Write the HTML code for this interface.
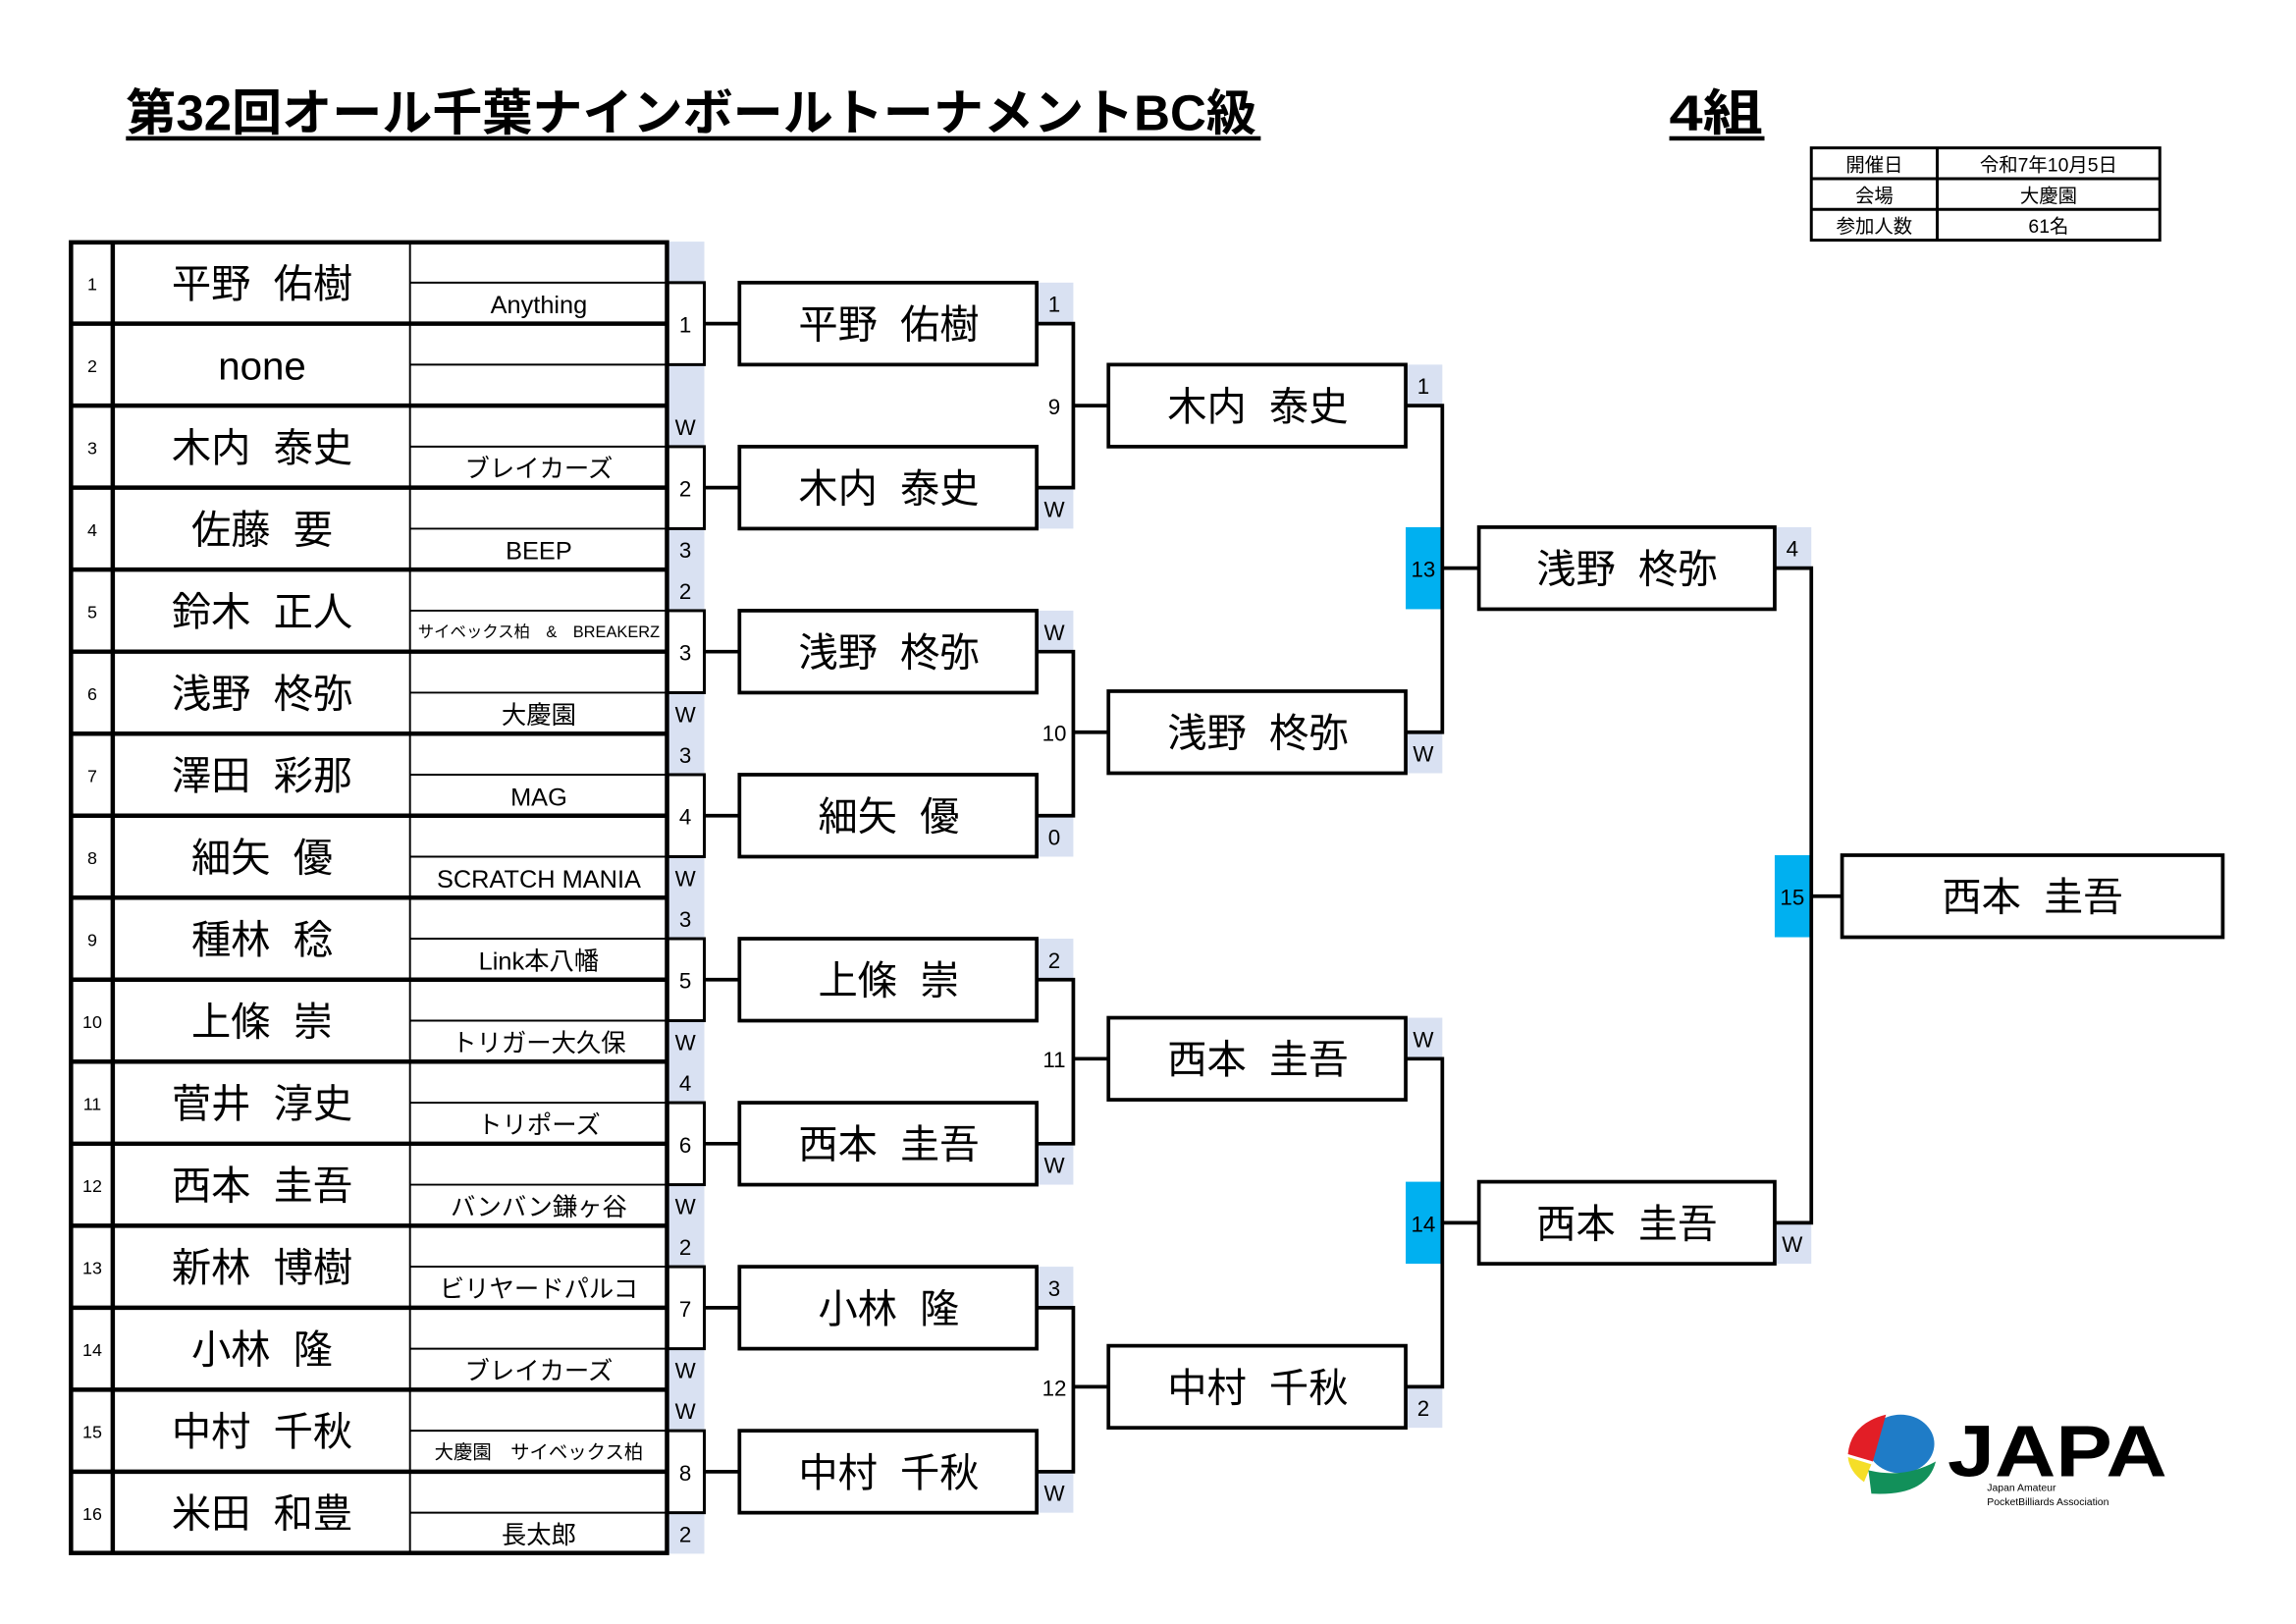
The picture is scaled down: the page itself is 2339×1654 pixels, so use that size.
<!DOCTYPE html>
<html><head><meta charset="utf-8"><style>
html,body{margin:0;padding:0;background:#fff;}
svg{display:block;}
text{font-family:"Liberation Sans","Noto Sans CJK JP",sans-serif;fill:#000;}
.nm{font-size:27px;text-anchor:middle;word-spacing:8px;}
.cl{font-size:17px;text-anchor:middle;}
.sm{font-size:12px;text-anchor:middle;}
.sc{font-size:15px;text-anchor:middle;}
</style></head><body>
<svg width="2339" height="1654" viewBox="0 0 1568 1109" preserveAspectRatio="none" xmlns="http://www.w3.org/2000/svg">
<rect width="1568" height="1109" fill="#fff"/>
<text x="86" y="89" font-size="34" font-weight="bold" textLength="772" lengthAdjust="spacingAndGlyphs">第32回オール千葉ナインボールトーナメントBC級</text>
<rect x="86" y="93" width="775" height="3" fill="#000"/>
<text x="1140" y="89" font-size="34" font-weight="bold" textLength="64" lengthAdjust="spacingAndGlyphs">4組</text>
<rect x="1140" y="93" width="65" height="3" fill="#000"/>
<g stroke="#000" stroke-width="2" fill="none">
<rect x="1237" y="101" width="238" height="63"/>
<line x1="1323" y1="101" x2="1323" y2="164"/>
<line x1="1237" y1="122" x2="1475" y2="122"/>
<line x1="1237" y1="143" x2="1475" y2="143"/>
</g>
<g font-size="13" text-anchor="middle">
<text x="1280" y="117">開催日</text><text x="1399" y="117">令和7年10月5日</text>
<text x="1280" y="138">会場</text><text x="1399" y="138">大慶園</text>
<text x="1280" y="159">参加人数</text><text x="1399" y="159">61名</text>
</g>
<rect x="456" y="165" width="25" height="896" fill="#d9e1f2"/>
<g fill="#fff" stroke="#000" stroke-width="2">
<rect x="456" y="193" width="25" height="56"/><rect x="456" y="305" width="25" height="56"/>
<rect x="456" y="417" width="25" height="56"/><rect x="456" y="529" width="25" height="56"/>
<rect x="456" y="641" width="25" height="56"/><rect x="456" y="753" width="25" height="56"/>
<rect x="456" y="865" width="25" height="56"/><rect x="456" y="977" width="25" height="56"/>
</g>
<g class="sc">
<text x="468" y="227" class="sc">1</text><text x="468" y="339" class="sc">2</text>
<text x="468" y="451" class="sc">3</text><text x="468" y="563" class="sc">4</text>
<text x="468" y="675" class="sc">5</text><text x="468" y="787" class="sc">6</text>
<text x="468" y="899" class="sc">7</text><text x="468" y="1011" class="sc">8</text>
<text x="468" y="297" class="sc">W</text><text x="468" y="381" class="sc">3</text>
<text x="468" y="409" class="sc">2</text><text x="468" y="493" class="sc">W</text>
<text x="468" y="521" class="sc">3</text><text x="468" y="605" class="sc">W</text>
<text x="468" y="633" class="sc">3</text><text x="468" y="717" class="sc">W</text>
<text x="468" y="745" class="sc">4</text><text x="468" y="829" class="sc">W</text>
<text x="468" y="857" class="sc">2</text><text x="468" y="941" class="sc">W</text>
<text x="468" y="969" class="sc">W</text><text x="468" y="1053" class="sc">2</text>
</g>
<g stroke="#000" fill="none">
<g stroke-width="1.3">
<line x1="280" y1="193" x2="456" y2="193"/><line x1="280" y1="249" x2="456" y2="249"/>
<line x1="280" y1="305" x2="456" y2="305"/><line x1="280" y1="361" x2="456" y2="361"/>
<line x1="280" y1="417" x2="456" y2="417"/><line x1="280" y1="473" x2="456" y2="473"/>
<line x1="280" y1="529" x2="456" y2="529"/><line x1="280" y1="585" x2="456" y2="585"/>
<line x1="280" y1="641" x2="456" y2="641"/><line x1="280" y1="697" x2="456" y2="697"/>
<line x1="280" y1="753" x2="456" y2="753"/><line x1="280" y1="809" x2="456" y2="809"/>
<line x1="280" y1="865" x2="456" y2="865"/><line x1="280" y1="921" x2="456" y2="921"/>
<line x1="280" y1="977" x2="456" y2="977"/><line x1="280" y1="1033" x2="456" y2="1033"/>
<line x1="280" y1="165" x2="280" y2="1061"/>
</g>
<g stroke-width="3">
<rect x="48.5" y="165.5" width="407" height="895"/>
<line x1="77" y1="165" x2="77" y2="1061"/>
<line x1="48" y1="221" x2="456" y2="221"/><line x1="48" y1="277" x2="456" y2="277"/>
<line x1="48" y1="333" x2="456" y2="333"/><line x1="48" y1="389" x2="456" y2="389"/>
<line x1="48" y1="445" x2="456" y2="445"/><line x1="48" y1="501" x2="456" y2="501"/>
<line x1="48" y1="557" x2="456" y2="557"/><line x1="48" y1="613" x2="456" y2="613"/>
<line x1="48" y1="669" x2="456" y2="669"/><line x1="48" y1="725" x2="456" y2="725"/>
<line x1="48" y1="781" x2="456" y2="781"/><line x1="48" y1="837" x2="456" y2="837"/>
<line x1="48" y1="893" x2="456" y2="893"/><line x1="48" y1="949" x2="456" y2="949"/>
<line x1="48" y1="1005" x2="456" y2="1005"/>
</g>
</g>
<g class="sm">
<text x="63" y="198" class="sm">1</text><text x="63" y="254" class="sm">2</text>
<text x="63" y="310" class="sm">3</text><text x="63" y="366" class="sm">4</text>
<text x="63" y="422" class="sm">5</text><text x="63" y="478" class="sm">6</text>
<text x="63" y="534" class="sm">7</text><text x="63" y="590" class="sm">8</text>
<text x="63" y="646" class="sm">9</text><text x="63" y="702" class="sm">10</text>
<text x="63" y="758" class="sm">11</text><text x="63" y="814" class="sm">12</text>
<text x="63" y="870" class="sm">13</text><text x="63" y="926" class="sm">14</text>
<text x="63" y="982" class="sm">15</text><text x="63" y="1038" class="sm">16</text>
</g>
<text x="179" y="203" class="nm">平野 佑樹</text>
<text x="179" y="259" class="nm">none</text>
<text x="179" y="315" class="nm">木内 泰史</text>
<text x="179" y="371" class="nm">佐藤 要</text>
<text x="179" y="427" class="nm">鈴木 正人</text>
<text x="179" y="483" class="nm">浅野 柊弥</text>
<text x="179" y="539" class="nm">澤田 彩那</text>
<text x="179" y="595" class="nm">細矢 優</text>
<text x="179" y="651" class="nm">種林 稔</text>
<text x="179" y="707" class="nm">上條 崇</text>
<text x="179" y="763" class="nm">菅井 淳史</text>
<text x="179" y="819" class="nm">西本 圭吾</text>
<text x="179" y="875" class="nm">新林 博樹</text>
<text x="179" y="931" class="nm">小林 隆</text>
<text x="179" y="987" class="nm">中村 千秋</text>
<text x="179" y="1043" class="nm">米田 和豊</text>
<text x="368" y="214" class="cl">Anything</text>
<text x="368" y="326" class="cl">ブレイカーズ</text>
<text x="368" y="382" class="cl">BEEP</text>
<text x="368" y="435" font-size="11" text-anchor="middle">サイベックス柏　&amp;　BREAKERZ</text>
<text x="368" y="494" class="cl">大慶園</text>
<text x="368" y="550" class="cl">MAG</text>
<text x="368" y="606" class="cl">SCRATCH MANIA</text>
<text x="368" y="662" class="cl">Link本八幡</text>
<text x="368" y="718" class="cl">トリガー大久保</text>
<text x="368" y="774" class="cl">トリポーズ</text>
<text x="368" y="830" class="cl">バンバン鎌ヶ谷</text>
<text x="368" y="886" class="cl">ビリヤードパルコ</text>
<text x="368" y="942" class="cl">ブレイカーズ</text>
<text x="368" y="996" font-size="13" text-anchor="middle">大慶園　サイベックス柏</text>
<text x="368" y="1054" class="cl">長太郎</text>
<g fill="#d9e1f2">
<rect x="708" y="193" width="25" height="28"/><rect x="708" y="333" width="25" height="28"/>
<rect x="708" y="417" width="25" height="28"/><rect x="708" y="557" width="25" height="28"/>
<rect x="708" y="641" width="25" height="28"/><rect x="708" y="781" width="25" height="28"/>
<rect x="708" y="865" width="25" height="28"/><rect x="708" y="1005" width="25" height="28"/>
<rect x="960" y="249" width="25" height="28"/><rect x="960" y="500" width="25" height="28"/>
<rect x="960" y="695" width="25" height="28"/><rect x="960" y="947" width="25" height="28"/>
<rect x="1212" y="360" width="25" height="28"/><rect x="1212" y="835" width="25" height="28"/>
</g>
<g fill="#00b0f0">
<rect x="960" y="360" width="25" height="56"/><rect x="960" y="807" width="25" height="56"/>
<rect x="1212" y="584" width="25" height="56"/>
</g>
<g stroke="#000" stroke-width="2.5" fill="none">
<line x1="481" y1="221" x2="505" y2="221"/><line x1="481" y1="333" x2="505" y2="333"/>
<line x1="481" y1="445" x2="505" y2="445"/><line x1="481" y1="557" x2="505" y2="557"/>
<line x1="481" y1="669" x2="505" y2="669"/><line x1="481" y1="781" x2="505" y2="781"/>
<line x1="481" y1="893" x2="505" y2="893"/><line x1="481" y1="1005" x2="505" y2="1005"/>
<polyline points="708,221 733,221 733,333 708,333"/>
<polyline points="708,445 733,445 733,557 708,557"/>
<polyline points="708,669 733,669 733,781 708,781"/>
<polyline points="708,893 733,893 733,1005 708,1005"/>
<line x1="733" y1="277" x2="757" y2="277"/><line x1="733" y1="500" x2="757" y2="500"/>
<line x1="733" y1="723" x2="757" y2="723"/><line x1="733" y1="947" x2="757" y2="947"/>
<polyline points="960,277 985,277 985,500 960,500"/>
<polyline points="960,723 985,723 985,947 960,947"/>
<line x1="985" y1="388" x2="1010" y2="388"/><line x1="985" y1="835" x2="1010" y2="835"/>
<polyline points="1212,388 1237,388 1237,835 1212,835"/>
<line x1="1237" y1="612" x2="1258" y2="612"/>
</g>
<g stroke="#000" stroke-width="2.5" fill="#fff">
<rect x="505" y="193" width="203" height="56"/><rect x="505" y="305" width="203" height="56"/>
<rect x="505" y="417" width="203" height="56"/><rect x="505" y="529" width="203" height="56"/>
<rect x="505" y="641" width="203" height="56"/><rect x="505" y="753" width="203" height="56"/>
<rect x="505" y="865" width="203" height="56"/><rect x="505" y="977" width="203" height="56"/>
<rect x="757" y="249" width="203" height="56"/><rect x="757" y="472" width="203" height="56"/>
<rect x="757" y="695" width="203" height="56"/><rect x="757" y="919" width="203" height="56"/>
<rect x="1010" y="360" width="202" height="56"/><rect x="1010" y="807" width="202" height="56"/>
<rect x="1258" y="584" width="260" height="56"/>
</g>
<text x="607" y="231" class="nm">平野 佑樹</text>
<text x="607" y="343" class="nm">木内 泰史</text>
<text x="607" y="455" class="nm">浅野 柊弥</text>
<text x="607" y="567" class="nm">細矢 優</text>
<text x="607" y="679" class="nm">上條 崇</text>
<text x="607" y="791" class="nm">西本 圭吾</text>
<text x="607" y="903" class="nm">小林 隆</text>
<text x="607" y="1015" class="nm">中村 千秋</text>
<text x="859" y="287" class="nm">木内 泰史</text>
<text x="859" y="510" class="nm">浅野 柊弥</text>
<text x="859" y="733" class="nm">西本 圭吾</text>
<text x="859" y="957" class="nm">中村 千秋</text>
<text x="1111" y="398" class="nm">浅野 柊弥</text>
<text x="1111" y="845" class="nm">西本 圭吾</text>
<text x="1388" y="622" class="nm">西本 圭吾</text>
<text x="720" y="213" class="sc">1</text><text x="720" y="353" class="sc">W</text>
<text x="720" y="437" class="sc">W</text><text x="720" y="577" class="sc">0</text>
<text x="720" y="661" class="sc">2</text><text x="720" y="801" class="sc">W</text>
<text x="720" y="885" class="sc">3</text><text x="720" y="1025" class="sc">W</text>
<text x="720" y="283" class="sc">9</text><text x="720" y="506" class="sc">10</text>
<text x="720" y="729" class="sc">11</text><text x="720" y="953" class="sc">12</text>
<text x="972" y="269" class="sc">1</text><text x="972" y="520" class="sc">W</text>
<text x="972" y="715" class="sc">W</text><text x="972" y="967" class="sc">2</text>
<text x="972" y="394" class="sc">13</text><text x="972" y="841" class="sc">14</text>
<text x="1224" y="380" class="sc">4</text><text x="1224" y="855" class="sc">W</text>
<text x="1224" y="618" class="sc">15</text>
<g>
<ellipse cx="1298" cy="986" rx="23" ry="20" fill="#1f7cc7"/>
<path d="M1288,966 L1279,998 L1262,993 Q1264,972 1288,966 Z" fill="#e21e26"/>
<path d="M1262,995 L1278,1000 L1273,1012 Q1263,1005 1262,995 Z" fill="#f5de28"/>
<path d="M1276,1004 Q1300,1010 1322,998 Q1316,1022 1278,1020 Z" fill="#12905a"/>
<text x="1330" y="1008" font-size="50" font-weight="bold" font-family="Liberation Serif, serif" textLength="150" lengthAdjust="spacingAndGlyphs">JAPA</text>
<text x="1357" y="1018" font-size="7">Japan Amateur</text>
<text x="1357" y="1028" font-size="7">PocketBilliards Association</text>
</g>
</svg>
</body></html>
